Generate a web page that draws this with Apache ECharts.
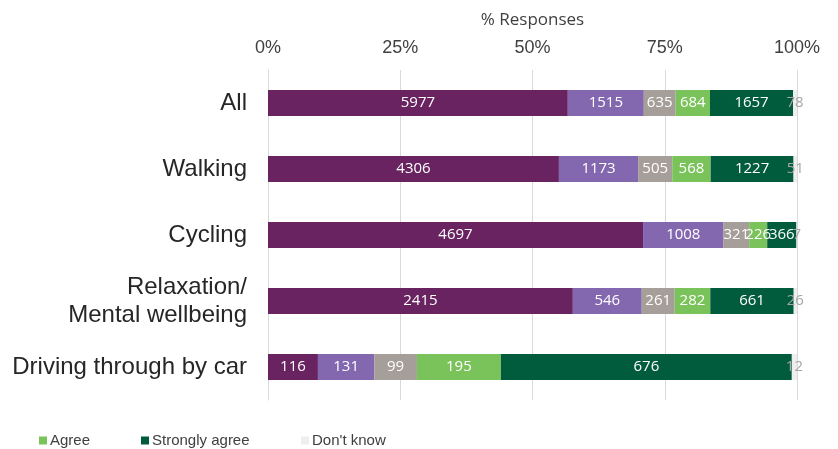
<!DOCTYPE html>
<html>
<head>
<meta charset="utf-8">
<title>% Responses</title>
<script src="https://cdn.jsdelivr.net/npm/echarts@6/dist/echarts.min.js"></script>
<style>
  html, body { margin: 0; padding: 0; background: #ffffff; }
  #chart { width: 838px; height: 449px; }
</style>
</head>
<body>
<div id="chart"></div>
<script>
// Survey responses per activity (counts)
const categories = ['All', 'Walking', 'Cycling', 'Relaxation/\nMental wellbeing', 'Driving through by car'];
const responseNames = ['Strongly disagree', 'Disagree', 'Neither', 'Agree', 'Strongly agree', "Don't know"];
const stronglyDisagree = [5977, 4306, 4697, 2415, 116];
const disagree = [1515, 1173, 1008, 546, 131];
const neither = [635, 505, 321, 261, 99];
const agree = [684, 568, 226, 282, 195];
const stronglyAgree = [1657, 1227, 366, 661, 676];
const dontKnow = [78, 51, 7, 26, 12];
const tickLabels = ['0%', '25%', '50%', '75%', '100%'];

const seriesCounts = [stronglyDisagree, disagree, neither, agree, stronglyAgree, dontKnow];
const colors = ['#682360', '#8367AF', '#A59E99', '#7AC25A', '#005C3C', '#EEEEEE'];
const labelColors = ['#ffffff', '#ffffff', '#ffffff', '#ffffff', '#ffffff', '#A6A6A6'];

// Row totals for the 100% stacking
const totals = categories.map((_, i) => seriesCounts.reduce((s, arr) => s + arr[i], 0));

const series = seriesCounts.map((counts, k) => ({
  name: responseNames[k],
  type: 'bar',
  stack: 'total',
  barWidth: 26,
  itemStyle: { color: colors[k] },
  label: {
    show: true,
    position: 'inside',
    color: labelColors[k],
    fontFamily: 'Open Sans',
    fontSize: 15,
    formatter: p => String(counts[p.dataIndex])
  },
  labelLayout: { hideOverlap: false },
  emphasis: { disabled: true },
  data: counts.map((v, i) => v / totals[i] * 100)
}));

const legendStyle = {
  icon: 'rect',
  itemWidth: 8,
  itemHeight: 8,
  itemGap: 4,
  top: 428,
  textStyle: { fontFamily: 'Liberation Sans', fontSize: 15, color: '#404040', padding: [0, 0, 0, -2] },
  selectedMode: false
};

const chart = echarts.init(document.getElementById('chart'), null, { renderer: 'canvas' });
chart.setOption({
  animation: false,
  grid: { left: 268, right: 41, top: 70, bottom: 49, containLabel: false, outerBoundsMode: 'none' },
  legend: [
    Object.assign({ left: 34, data: ['Agree'] }, legendStyle),
    Object.assign({ left: 136, data: ['Strongly agree'] }, legendStyle),
    Object.assign({ left: 296, data: ["Don't know"] }, legendStyle)
  ],
  xAxis: {
    type: 'value',
    position: 'top',
    min: 0,
    max: 100,
    interval: 25,
    name: '% Responses',
    nameLocation: 'middle',
    nameGap: 41,
    nameTextStyle: { fontFamily: 'Open Sans', fontSize: 17, color: '#404040' },
    axisLine: { show: false },
    axisTick: { show: false },
    axisLabel: {
      fontFamily: 'Liberation Sans',
      fontSize: 18,
      color: '#404040',
      margin: 13,
      formatter: v => tickLabels[Math.round(v / 25)]
    },
    splitLine: { show: true, lineStyle: { color: '#D9D9D9', width: 1 } }
  },
  yAxis: {
    type: 'category',
    inverse: true,
    data: categories,
    axisLine: { show: true, lineStyle: { color: '#D9D9D9' } },
    axisTick: { show: false },
    axisLabel: {
      fontFamily: 'Liberation Sans',
      fontSize: 24,
      color: '#262626',
      margin: 21,
      lineHeight: 28,
      align: 'right'
    }
  },
  series: series
});
</script>
</body>
</html>
